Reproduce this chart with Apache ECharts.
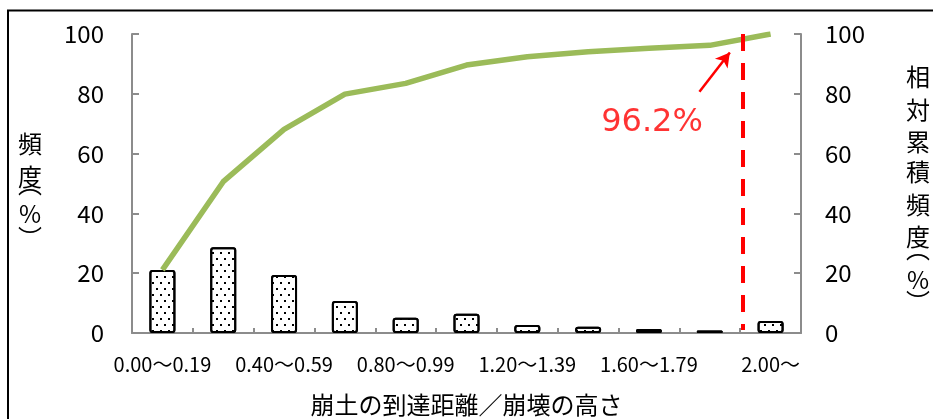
<!DOCTYPE html>
<html>
<head>
<meta charset="utf-8">
<script src="https://cdn.jsdelivr.net/npm/echarts@6/dist/echarts.min.js"></script>
<style>
  html, body { margin: 0; padding: 0; background: #ffffff; }
  #chart { width: 933px; height: 419px; }
</style>
</head>
<body>
<div id="chart"></div>
<script>
// Runout distance / slope height classes
const categories = [
  '0.00～0.19', '0.20～0.39', '0.40～0.59', '0.60～0.79', '0.80～0.99',
  '1.00～1.19', '1.20～1.39', '1.40～1.59', '1.60～1.79', '1.80～1.99', '2.00～'
];
// Frequency of each class (%)
const frequency = [21.1, 28.7, 19.4, 10.7, 5.1, 6.4, 2.7, 2.1, 1.3, 0.8, 4.0];
// Relative cumulative frequency (%)
const cumulative = [21.1, 50.6, 68.1, 79.9, 83.5, 89.6, 92.4, 94.1, 95.2, 96.2, 100];

// Percent axes
const pctMin = 0, pctMax = 100, pctStep = 20;
// Ratio scale underlying the classes (each class is 0.2 wide)
const ratioMin = 0, ratioMax = 2.2;

// Cut-off marker and its callout, in ratio / percent units
const cutoffRatio = 2.01;
const cutoffSpan = [1, 100];
const calloutIndex = 9;
const calloutTextAt = [1.71, 70.4];
const calloutArrow = [[1.866, 80.7], [1.966, 93.8]];

const axisGray = '#8c8c8c';
const cjk = '"Noto Sans CJK JP", "Noto Sans", sans-serif';

// Stacked (vertical) axis title: one character per line, each line with its own height
// so the vertical-form brackets sit snugly against their neighbours.
function stackedName(lines) {
  const rich = {};
  const text = lines.map(([ch, lh], i) => {
    rich['l' + i] = { fontSize: 24, lineHeight: lh, fontFamily: cjk, color: '#000' };
    return '{l' + i + '|' + ch + '}';
  }).join('\n');
  return { text, rich };
}

const leftName = stackedName([['頻', 66], ['度', 0], ['︵', 14], ['%', 47], ['︶', 0]]);
const rightName = stackedName([
  ['相', 57], ['対', 9], ['累', 55], ['積', 5], ['頻', 61], ['度', 3],
  ['︵', 20], ['%', 43], ['︶', 0]
]);

const chart = echarts.init(document.getElementById('chart'), null, { renderer: 'canvas' });

const pctAxis = (position, title, nameGap, namePad, labelMargin) => ({
  type: 'value',
  position: position,
  min: pctMin, max: pctMax, interval: pctStep,
  name: title.text,
  nameLocation: 'middle',
  nameRotate: 0,
  nameGap: nameGap,
  nameTextStyle: { align: 'center', verticalAlign: 'middle', padding: [0, 0, namePad, 0], rich: title.rich },
  axisLine: { show: true, lineStyle: { color: axisGray, width: 2 } },
  axisTick: { show: true, inside: true, length: 7, lineStyle: { color: axisGray, width: 2 } },
  axisLabel: { margin: labelMargin, fontSize: 24, fontFamily: cjk, color: '#000' },
  splitLine: { show: false }
});

chart.setOption({
  animation: false,
  backgroundColor: '#ffffff',
  grid: { left: 132, right: 132, top: 34, bottom: 86, containLabel: false, outerBoundsMode: 'none' },
  graphic: [{
    type: 'rect',
    shape: { x: 8, y: 10.5, width: 960, height: 440 },
    style: { fill: 'none', stroke: '#000', lineWidth: 2 },
    silent: true, z: -1
  }],
  xAxis: [{
    type: 'category',
    data: categories,
    boundaryGap: true,
    name: '崩土の到達距離／崩壊の高さ',
    nameLocation: 'middle',
    nameGap: 72,
    nameTextStyle: { fontSize: 24, fontFamily: cjk, color: '#000', verticalAlign: 'middle' },
    axisLine: { show: true, lineStyle: { color: axisGray, width: 2 } },
    axisTick: { show: true, inside: true, length: 5, interval: 0, lineStyle: { color: axisGray, width: 2 } },
    axisLabel: { interval: 1, margin: 21, fontSize: 20, fontFamily: cjk, color: '#000' },
    splitLine: { show: false }
  }, {
    type: 'value',
    min: ratioMin, max: ratioMax,
    show: false
  }],
  yAxis: [
    pctAxis('left', leftName, 102, 19, 28),
    pctAxis('right', rightName, 117, 17, 24)
  ],
  series: [{
    name: '頻度',
    type: 'bar',
    xAxisIndex: 0, yAxisIndex: 0,
    data: frequency,
    barWidth: 26,
    itemStyle: {
      color: '#ffffff',
      borderColor: '#000000',
      borderWidth: 2,
      borderRadius: 2,
      decal: {
        symbol: 'rect',
        symbolSize: 1,
        color: '#000000',
        dashArrayX: [[2, 6], [0, 4, 2, 2]],
        dashArrayY: [2, 4]
      }
    },
    z: 2
  }, {
    name: '相対累積頻度',
    type: 'line',
    xAxisIndex: 0, yAxisIndex: 1,
    data: cumulative,
    symbol: 'none',
    lineStyle: { color: '#9bbb59', width: 5.5, cap: 'butt', join: 'round' },
    z: 3
  }, {
    name: 'cutoff',
    type: 'scatter',
    xAxisIndex: 1, yAxisIndex: 0,
    clip: false,
    symbolSize: 0,
    data: [{
      value: calloutTextAt,
      label: {
        show: true,
        position: 'inside',
        formatter: () => cumulative[calloutIndex].toFixed(1) + '%',
        fontSize: 32,
        fontFamily: '"DejaVu Sans", sans-serif',
        color: '#ff0000'
      }
    }],
    markLine: {
      silent: true,
      animation: false,
      label: { show: false },
      data: [
        [
          { coord: [cutoffRatio, cutoffSpan[1]], symbol: 'none',
            lineStyle: { color: '#ff0000', width: 4, type: [17, 12] } },
          { coord: [cutoffRatio, cutoffSpan[0]], symbol: 'none' }
        ],
        [
          { coord: calloutArrow[0], symbol: 'none',
            lineStyle: { color: '#ff0000', width: 2.5, type: 'solid' } },
          { coord: calloutArrow[1], symbol: 'arrow', symbolSize: [12, 14] }
        ]
      ]
    },
    z: 5
  }]
});
</script>
</body>
</html>
